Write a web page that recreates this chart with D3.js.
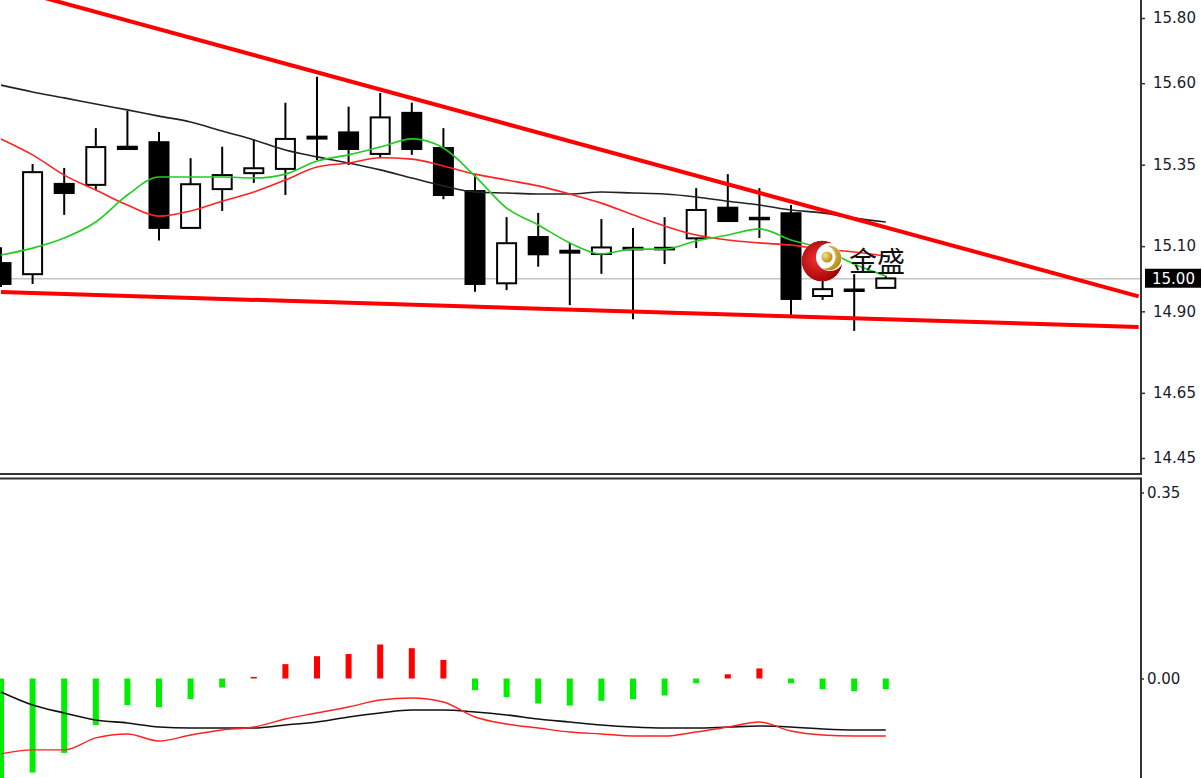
<!DOCTYPE html>
<html><head><meta charset="utf-8">
<script src="https://cdn.jsdelivr.net/npm/d3@7/dist/d3.min.js"></script>
<style>body{margin:0;background:#fff;overflow:hidden}svg{display:block}</style>
</head><body>
<svg id="chart" width="1202" height="778"></svg>
<script>
// ---- data ----
const bars  = [0,1,2,3,4,5,6,7,8,9,10,11,12,13,14,15,16,17,18,19,20,21,22,23,24,25,26,27,28];
const open  = [15.048,15.014,15.291,15.288,15.405,15.419,15.156,15.275,15.324,15.337,15.436,15.449,15.383,15.509,15.401,15.269,14.986,15.128,15.086,15.076,15.095,15.095,15.124,15.218,15.187,15.201,14.947,14.967,14.972];
const high  = [15.097,15.352,15.340,15.462,15.515,15.450,15.370,15.405,15.428,15.540,15.620,15.528,15.570,15.540,15.462,15.318,15.189,15.202,15.110,15.183,15.156,15.189,15.278,15.321,15.278,15.226,14.996,15.014,15.008];
const low   = [14.975,14.984,15.196,15.272,15.398,15.117,15.154,15.208,15.294,15.257,15.364,15.349,15.370,15.380,15.244,14.960,14.965,15.037,14.919,15.015,14.876,15.045,15.094,15.177,15.125,14.886,14.935,14.840,14.972];
const close = [14.984,15.327,15.263,15.404,15.398,15.156,15.290,15.318,15.339,15.429,15.430,15.398,15.495,15.398,15.257,14.984,15.109,15.075,15.080,15.096,15.090,15.090,15.211,15.177,15.183,14.938,14.968,14.963,15.001];
const maFast  = [15.073,15.094,15.125,15.174,15.257,15.312,15.312,15.312,15.309,15.321,15.361,15.380,15.404,15.429,15.401,15.315,15.217,15.165,15.110,15.076,15.091,15.091,15.116,15.134,15.153,15.119,15.091,15.045,15.008];
const maMid   = [15.429,15.380,15.318,15.272,15.226,15.192,15.208,15.238,15.266,15.303,15.343,15.355,15.371,15.367,15.346,15.321,15.303,15.285,15.260,15.232,15.196,15.162,15.134,15.119,15.110,15.103,15.091,15.082,15.070];
const maSlow  = [15.594,15.573,15.555,15.536,15.518,15.499,15.481,15.453,15.426,15.395,15.374,15.355,15.334,15.309,15.285,15.266,15.263,15.260,15.260,15.266,15.263,15.260,15.251,15.238,15.226,15.211,15.202,15.186,15.174];
const upperTrend = [{i:0, v:15.898},{i:36, v:14.946}];
const lowerTrend = [{i:0, v:14.959},{i:36, v:14.852}];
const lastPrice = 15.00;
const priceTicks = [15.80,15.60,15.35,15.10,14.90,14.65,14.45];
const hist    = [-0.19,-0.177,-0.140,-0.0875,-0.050,-0.054,-0.039,-0.017,0.003,0.027,0.042,0.046,0.064,0.057,0.035,-0.022,-0.035,-0.047,-0.051,-0.042,-0.039,-0.032,-0.009,0.008,0.019,-0.009,-0.020,-0.024,-0.020];
const oscMain = [-0.0254,-0.0499,-0.0649,-0.0781,-0.0837,-0.0913,-0.0932,-0.0932,-0.0932,-0.0875,-0.0819,-0.0725,-0.0649,-0.0593,-0.0593,-0.0630,-0.0687,-0.0762,-0.0819,-0.0875,-0.0913,-0.0932,-0.0932,-0.0913,-0.0894,-0.0913,-0.0950,-0.0969,-0.0969];
const oscSig  = [-0.1419,-0.1344,-0.1344,-0.1118,-0.1044,-0.1176,-0.1063,-0.0969,-0.0913,-0.0762,-0.0649,-0.0536,-0.0405,-0.0367,-0.0442,-0.0725,-0.0856,-0.0932,-0.1007,-0.1044,-0.1082,-0.1082,-0.1007,-0.0913,-0.0819,-0.0988,-0.1063,-0.1082,-0.1082];
const oscTicks = [0.35, 0.00];
const logoText = "金盛";

// ---- layout ----
const svg = d3.select("#chart");
const axisX = 1141, mainBottom = 474, subTop = 478.5, H = 778;
const x  = d3.scaleLinear().domain([0, 28]).range([1, 885.8]);
const y  = d3.scaleLinear().domain([15.80, 14.45]).range([18, 458]);
const y2 = d3.scaleLinear().domain([0.35, 0]).range([492.5, 678.5]);

svg.append("rect").attr("width",1202).attr("height",778).attr("fill","#fff");
const defs = svg.append("defs");
defs.append("clipPath").attr("id","cMain").append("rect").attr("x",0).attr("y",0).attr("width",axisX).attr("height",mainBottom);
defs.append("clipPath").attr("id","cSub").append("rect").attr("x",0).attr("y",subTop+1).attr("width",axisX).attr("height",H-subTop);

// ---- main panel ----
const gm = svg.append("g").attr("clip-path","url(#cMain)");
gm.append("line").attr("x1",0).attr("x2",axisX).attr("y1",y(lastPrice)).attr("y2",y(lastPrice))
  .attr("stroke","#c4c4c4").attr("stroke-width",1.5);

const bw = 19;
const cg = gm.append("g");
bars.forEach(i => {
  const cx = x(i);
  cg.append("line").attr("x1",cx).attr("x2",cx).attr("y1",y(high[i])).attr("y2",y(low[i]))
    .attr("stroke","#000").attr("stroke-width",2);
  const top = y(Math.max(open[i],close[i])), bot = y(Math.min(open[i],close[i]));
  const bull = close[i] >= open[i];
  cg.append("rect").attr("x",cx-bw/2).attr("y",top).attr("width",bw).attr("height",Math.max(1.5,bot-top))
    .attr("fill", bull ? "#fff" : "#000").attr("stroke","#000").attr("stroke-width",2);
});

const line = arr => d3.line().curve(d3.curveMonotoneX).x((d,i)=>x(i)).y(d=>y(d))(arr);
gm.append("path").attr("d",line(maSlow)).attr("fill","none").attr("stroke","#222").attr("stroke-width",1.6);
gm.append("path").attr("d",line(maMid)).attr("fill","none").attr("stroke","#ff2222").attr("stroke-width",1.6);
gm.append("path").attr("d",line(maFast)).attr("fill","none").attr("stroke","#22cc22").attr("stroke-width",1.6);

const tline = d3.line().x(d=>x(d.i)).y(d=>y(d.v));
gm.append("path").attr("d",tline(upperTrend)).attr("fill","none").attr("stroke","#ff0000").attr("stroke-width",4);
gm.append("path").attr("d",tline(lowerTrend)).attr("fill","none").attr("stroke","#ff0000").attr("stroke-width",4);

// ---- logo ----
const lx = 822, ly = 261;
const grad = defs.append("radialGradient").attr("id","lg").attr("cx","40%").attr("cy","45%").attr("r","65%");
grad.append("stop").attr("offset","0%").attr("stop-color","#f23030");
grad.append("stop").attr("offset","100%").attr("stop-color","#9a0000");
const gold = defs.append("radialGradient").attr("id","gg").attr("cx","35%").attr("cy","35%").attr("r","70%");
gold.append("stop").attr("offset","0%").attr("stop-color","#f4e08a");
gold.append("stop").attr("offset","100%").attr("stop-color","#b48a10");
const m1 = defs.append("mask").attr("id","m1");
m1.append("rect").attr("x",780).attr("y",220).attr("width",100).attr("height",90).attr("fill","#000");
m1.append("circle").attr("cx",lx).attr("cy",ly).attr("r",20.5).attr("fill","#fff");
m1.append("circle").attr("cx",lx+8).attr("cy",ly-4).attr("r",14).attr("fill","#000");
const m2 = defs.append("mask").attr("id","m2");
m2.append("rect").attr("x",780).attr("y",220).attr("width",100).attr("height",90).attr("fill","#000");
m2.append("circle").attr("cx",lx+7).attr("cy",ly-3).attr("r",12.5).attr("fill","#fff");
m2.append("circle").attr("cx",lx+2).attr("cy",ly-4).attr("r",11.5).attr("fill","#000");
svg.append("circle").attr("cx",lx).attr("cy",ly).attr("r",20).attr("fill","#fff");
svg.append("circle").attr("cx",lx).attr("cy",ly).attr("r",20.5).attr("fill","url(#lg)").attr("mask","url(#m1)");
svg.append("circle").attr("cx",lx+7).attr("cy",ly-3).attr("r",12.5).attr("fill","url(#gg)").attr("mask","url(#m2)");
svg.append("circle").attr("cx",lx+5).attr("cy",ly-4).attr("r",5.5).attr("fill","url(#gg)");
svg.append("text").attr("x",849).attr("y",272).text(logoText)
  .attr("font-family","'Noto Sans CJK SC','Noto Sans',sans-serif").attr("font-size",28).attr("fill","#111");

// ---- sub panel ----
const gs = svg.append("g").attr("clip-path","url(#cSub)");
gs.selectAll("rect.h").data(hist).join("rect").attr("class","h")
  .attr("x",(d,i)=>x(i)-3).attr("width",6)
  .attr("y",d=>d>=0? y2(d): y2(0)).attr("height",d=>Math.max(1.5,Math.abs(y2(d)-y2(0))))
  .attr("fill",d=>d>=0? "#ff0000":"#00ee00");
const line2 = arr => d3.line().curve(d3.curveMonotoneX).x((d,i)=>x(i)).y(d=>y2(d))(arr);
gs.append("path").attr("d",line2(oscMain)).attr("fill","none").attr("stroke","#111").attr("stroke-width",1.6);
gs.append("path").attr("d",line2(oscSig)).attr("fill","none").attr("stroke","#ff2020").attr("stroke-width",1.4);

// ---- frames & axes ----
svg.append("line").attr("x1",0).attr("x2",axisX).attr("y1",mainBottom).attr("y2",mainBottom).attr("stroke","#333").attr("stroke-width",2);
svg.append("line").attr("x1",axisX).attr("x2",axisX).attr("y1",0).attr("y2",mainBottom+1).attr("stroke","#333").attr("stroke-width",2);
svg.append("line").attr("x1",0).attr("x2",axisX).attr("y1",subTop).attr("y2",subTop).attr("stroke","#333").attr("stroke-width",2);
svg.append("line").attr("x1",axisX).attr("x2",axisX).attr("y1",subTop-1).attr("y2",H).attr("stroke","#333").attr("stroke-width",2);

const fontFam = "'DejaVu Sans',Verdana,sans-serif";
const ax1 = svg.append("g").attr("transform",`translate(${axisX},0)`)
  .call(d3.axisRight(y).tickValues(priceTicks).tickFormat(d3.format(".2f")).tickSize(4).tickSizeOuter(0).tickPadding(8));
const ax2 = svg.append("g").attr("transform",`translate(${axisX},0)`)
  .call(d3.axisRight(y2).tickValues(oscTicks).tickFormat(d3.format(".2f")).tickSize(3).tickSizeOuter(0).tickPadding(3));
[ax1,ax2].forEach(a=>{
  a.select(".domain").remove();
  a.selectAll("line").attr("stroke","#333").attr("stroke-width",1.5);
  a.selectAll("text").attr("font-family",fontFam).attr("font-size",15).attr("fill","#1a1a2e");
});
// current price label
svg.append("rect").attr("x",1145).attr("y",y(lastPrice)-10).attr("width",56).attr("height",19).attr("fill","#000");
svg.append("text").attr("x",1152).attr("y",y(lastPrice)).attr("dy","0.34em").text(d3.format(".2f")(lastPrice))
  .attr("font-family",fontFam).attr("font-size",15).attr("fill","#fff");
</script>
</body></html>
